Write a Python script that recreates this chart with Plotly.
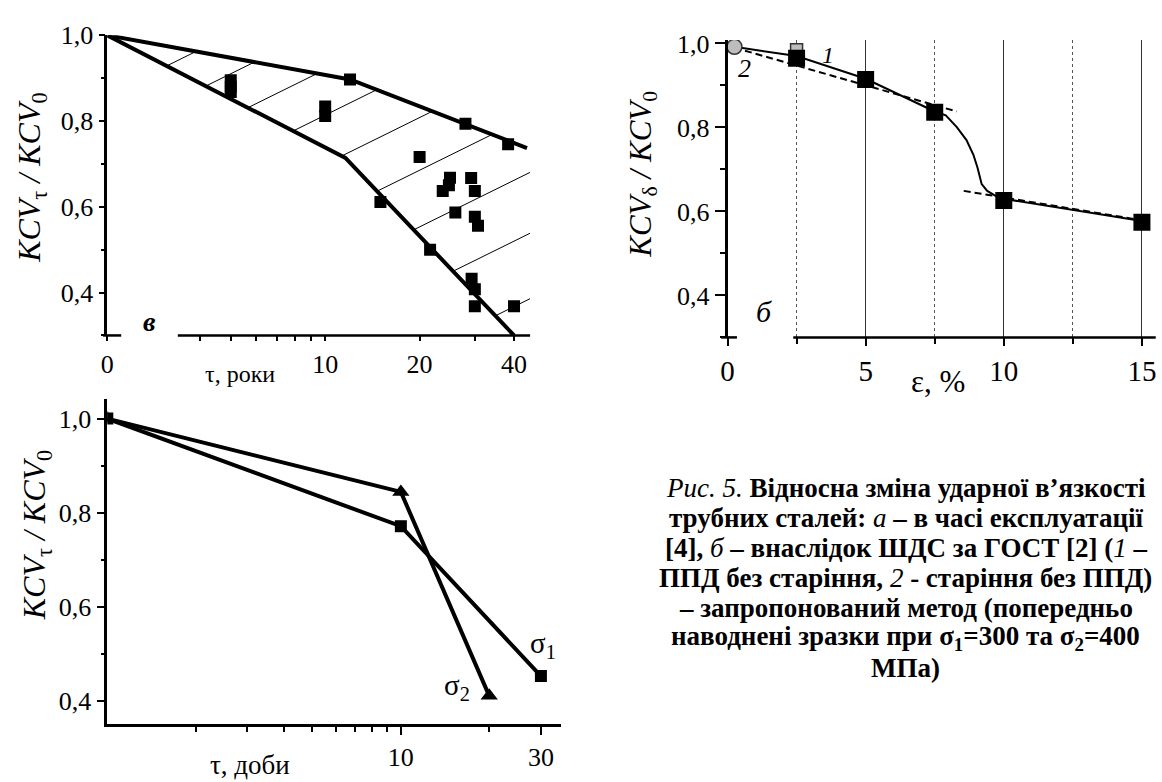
import numpy as np
import plotly.graph_objects as go

W, H = 1162, 782
FONT = "Liberation Serif, Times New Roman, serif"

# ---------------- DATA ----------------
# panel "в": KCV_tau/KCV_0 vs service time, years (log axis, broken at 0)
tl_tau = [5, 5, 5, 10, 10, 12, 28, 38.3, 20, 25, 24.8, 23.7, 29.2, 30, 26, 30, 30.7, 15, 21.6, 29.3, 30, 30, 40]
tl_kcv = [0.895, 0.88, 0.868, 0.834, 0.812, 0.897, 0.794, 0.746, 0.716, 0.668, 0.65, 0.637, 0.667, 0.637,
          0.587, 0.577, 0.556, 0.611, 0.5, 0.432, 0.408, 0.368, 0.368]
tl_upper_tau = [0, 12, 44]
tl_upper_kcv = [1.0, 0.897, 0.737]
tl_lower_tau = [0, 11.6, 40]
tl_lower_kcv = [1.0, 0.714, 0.30]
tl_tick_vals = [0, 10, 20, 40]
tl_tick_text = ["0", "10", "20", "40"]
tl_minor_vals = [4, 5, 6, 7, 8, 9, 30]

# panel "б": KCV_delta/KCV_0 vs strain, %
tr_eps_black = [2.5, 5, 7.5, 10, 15]
tr_kcv_black = [0.965, 0.914, 0.836, 0.626, 0.574]
tr_eps_grey_circle = [0.25]
tr_kcv_grey_circle = [0.992]
tr_eps_grey_square = [2.5]
tr_kcv_grey_square = [0.985]
curve1_eps = [0.25, 2.5, 5, 7.5, 7.9, 8.3, 8.65, 8.9, 9.05, 9.15, 9.2, 9.4, 9.7, 10, 15]
curve1_kcv = [0.992, 0.970, 0.916, 0.838, 0.829, 0.801, 0.770, 0.735, 0.704, 0.676, 0.665, 0.649, 0.637, 0.630, 0.577]
curve2a_eps = [0.25, 8.3]
curve2a_kcv = [0.99, 0.838]
curve2b_eps = [8.55, 14.9]
curve2b_kcv = [0.649, 0.58]

# bottom panel: KCV_tau/KCV_0 vs time, days
bl_tau_s1 = [1, 10, 30]
bl_kcv_s1 = [1.0, 0.771, 0.452]
bl_tau_s2 = [1, 10, 20]
bl_kcv_s2 = [1.0, 0.844, 0.41]
bl_tick_vals = [10, 30]
bl_minor_vals = [2, 3, 4, 5, 6, 7, 8, 9, 20]

# ---------------- LAYOUT HELPERS ----------------
ZERO_POS = 2.02      # where the broken log axis places "0"
TL_XMAX = 45


def tl_pos(t):
    return [v if v > 0 else ZERO_POS for v in t]


def xdom(l, r):
    return [l / W, r / W]


def ydom(top, bottom):
    return [1 - bottom / H, 1 - top / H]


def px(x):
    return x / W


def py(y):
    return 1 - y / H


def ann(text, x, y, size, angle=0, xanchor="center", yanchor="middle"):
    return dict(text=text, x=px(x), y=py(y), xref="paper", yref="paper", showarrow=False,
                textangle=angle, xanchor=xanchor, yanchor=yanchor,
                font=dict(family=FONT, size=size, color="black"))


def hline(x0, x1, y, w=2.5):
    return dict(type="line", xref="paper", yref="paper", x0=px(x0), x1=px(x1), y0=py(y), y1=py(y),
                line=dict(color="black", width=w))


# ---------------- HATCHING (derived from boundary arrays) ----------------
u_up = np.log10(tl_pos(tl_upper_tau))
u_lo = np.log10(tl_pos(tl_lower_tau))
u_grid = np.linspace(np.log10(ZERO_POS), np.log10(TL_XMAX), 5000)
U = np.interp(u_grid, u_up, tl_upper_kcv)
L = np.interp(u_grid, u_lo, tl_lower_kcv)
HATCH_SLOPE = 0.361
hx, hy = [], []
c, step = 0.75, 0.092
for i in range(9):
    h = c + HATCH_SLOPE * u_grid
    m = (h >= L) & (h <= U) & (h >= 0.3)
    if m.any():
        idx = np.where(m)[0]
        u1, u2 = u_grid[idx[0]], u_grid[idx[-1]]
        hx += [10 ** u1, 10 ** u2, None]
        hy += [c + HATCH_SLOPE * u1, c + HATCH_SLOPE * u2, None]
    c -= step
    step *= 1.075

fig = go.Figure()

# ---- top-left ----
fig.add_trace(go.Scatter(x=hx, y=hy, mode="lines", line=dict(color="black", width=1),
                         xaxis="x", yaxis="y", hoverinfo="skip"))
fig.add_trace(go.Scatter(x=tl_pos(tl_upper_tau), y=tl_upper_kcv, mode="lines",
                         line=dict(color="black", width=4), xaxis="x", yaxis="y"))
fig.add_trace(go.Scatter(x=tl_pos(tl_lower_tau), y=tl_lower_kcv, mode="lines",
                         line=dict(color="black", width=4), xaxis="x", yaxis="y"))
fig.add_trace(go.Scatter(x=tl_tau, y=tl_kcv, mode="markers",
                         marker=dict(symbol="square", size=12, color="black"), xaxis="x", yaxis="y"))

# ---- top-right ----
fig.add_trace(go.Scatter(x=curve2a_eps + [None] + curve2b_eps, y=curve2a_kcv + [None] + curve2b_kcv,
                         mode="lines", line=dict(color="black", width=2, dash="7px,4px"),
                         xaxis="x2", yaxis="y2"))
fig.add_trace(go.Scatter(x=curve1_eps, y=curve1_kcv, mode="lines",
                         line=dict(color="black", width=2), xaxis="x2", yaxis="y2"))
fig.add_trace(go.Scatter(x=tr_eps_grey_circle, y=tr_kcv_grey_circle, mode="markers",
                         marker=dict(symbol="circle", size=15, color="#bdbdbd",
                                     line=dict(color="#333", width=1.5)), xaxis="x2", yaxis="y2"))
fig.add_trace(go.Scatter(x=tr_eps_grey_square, y=tr_kcv_grey_square, mode="markers",
                         marker=dict(symbol="square", size=12, color="#bdbdbd",
                                     line=dict(color="#333", width=1.5)), xaxis="x2", yaxis="y2"))
fig.add_trace(go.Scatter(x=tr_eps_black, y=tr_kcv_black, mode="markers",
                         marker=dict(symbol="square", size=17, color="black"), xaxis="x2", yaxis="y2"))

# ---- bottom-left ----
fig.add_trace(go.Scatter(x=bl_tau_s1, y=bl_kcv_s1, mode="lines+markers",
                         line=dict(color="black", width=4),
                         marker=dict(symbol="square", size=12, color="black"), xaxis="x3", yaxis="y3"))
fig.add_trace(go.Scatter(x=bl_tau_s2, y=bl_kcv_s2, mode="lines+markers",
                         line=dict(color="black", width=4),
                         marker=dict(symbol="triangle-up", size=15, color="black"), xaxis="x3", yaxis="y3"))

tickfont = dict(family=FONT, size=26, color="black")
tickfont_big = dict(family=FONT, size=29, color="black")
common_y = dict(showline=True, linecolor="black", linewidth=2.5, ticks="outside", tickcolor="black",
                tickwidth=2, tickfont=tickfont, tickformat=".1f", showgrid=False, zeroline=False,
                fixedrange=True)

fig.update_layout(
    width=W, height=H, margin=dict(l=0, r=0, t=0, b=0), autosize=False,
    paper_bgcolor="white", plot_bgcolor="rgba(0,0,0,0)", showlegend=False,
    separators=", ",
    # top-left
    xaxis=dict(domain=xdom(101, 526.7), anchor="y", type="log",
               range=[np.log10(ZERO_POS), np.log10(TL_XMAX)],
               tickmode="array", tickvals=tl_pos(tl_tick_vals), ticktext=tl_tick_text,
               ticks="outside", ticklen=5, tickwidth=2, tickcolor="black", tickfont=tickfont,
               minor=dict(tickmode="array", tickvals=tl_minor_vals, ticks="outside",
                          ticklen=5, tickwidth=2, tickcolor="black"),
               showline=False, showgrid=False, zeroline=False),
    yaxis=dict(domain=ydom(21.7, 327.3), anchor="x", range=[0.3, 1.0], tick0=0.4, dtick=0.2,
               ticklen=6, minor=dict(dtick=0.1, tick0=0.3, ticklen=4, ticks="outside",
                                     tickcolor="black", tickwidth=2), **common_y),
    # top-right
    xaxis2=dict(domain=xdom(725.5, 1156.7), anchor="y2", range=[0, 15.5], tick0=0, dtick=5,
                ticks="outside", ticklen=8, tickwidth=2, tickcolor="black", tickfont=tickfont_big,
                showline=False, zeroline=False, showgrid=True, gridcolor="#333", gridwidth=1.3,
                minor=dict(dtick=2.5, tick0=0, ticks="outside", ticklen=6, tickwidth=2,
                           tickcolor="black", showgrid=True, gridcolor="#555", gridwidth=1,
                           griddash="dot")),
    yaxis2=dict(domain=ydom(26.6, 329.3), anchor="x2", range=[0.3, 1.008], tick0=0.4, dtick=0.2,
                ticklen=10, minor=dict(dtick=0.1, tick0=0.3, ticklen=5, ticks="outside",
                                       tickcolor="black", tickwidth=2), **common_y),
    # bottom-left
    xaxis3=dict(domain=xdom(101, 557.4), anchor="y3", type="log", range=[0, np.log10(35)],
                tickmode="array", tickvals=bl_tick_vals, ticktext=[str(v) for v in bl_tick_vals],
                ticks="outside", ticklen=8, tickwidth=2, tickcolor="black", tickfont=tickfont,
                minor=dict(tickmode="array", tickvals=bl_minor_vals, ticks="outside",
                           ticklen=5, tickwidth=2, tickcolor="black"),
                showline=True, linecolor="black", linewidth=2.5, showgrid=False, zeroline=False),
    yaxis3=dict(domain=ydom(391.9, 723), anchor="x3", range=[0.35, 1.042], tick0=0.4, dtick=0.2,
                ticklen=8, minor=dict(dtick=0.1, tick0=0.3, ticklen=4, ticks="outside",
                                      tickcolor="black", tickwidth=2), **common_y),
)

# broken x-axis lines
fig.update_layout(shapes=[
    hline(96.7, 115, 327.3), hline(172, 526.7, 327.3),
    hline(719, 735, 329.3), hline(791.7, 1156.7, 329.3),
])

ytitle_tau = "<i>KCV</i><sub>τ</sub> <i>/ KCV</i><sub>0</sub>"
ytitle_delta = "<i>KCV</i><sub>δ</sub> <i>/ KCV</i><sub>0</sub>"

annotations = [
    ann(ytitle_tau, 24, 166, 32, angle=-90),
    ann(ytitle_delta, 640, 163, 31, angle=-90),
    ann(ytitle_tau, 30, 530, 32, angle=-90),
    ann("τ, роки", 235, 367, 24),
    ann("ε, %", 937, 374, 31),
    ann("τ, доби", 245, 765, 27),
    ann("<b><i>в</i></b>", 143, 313, 28),
    ann("<i>б</i>", 762, 303, 30),
    ann("<i>1</i>", 827, 42, 24),
    ann("<i>2</i>", 743, 55, 26),
    ann("σ<sub>1</sub>", 540, 643, 29),
    ann("σ<sub>2</sub>", 453, 685, 29),
]

caption = [
    "<i>Рис. 5.</i> <b>Відносна зміна ударної в’язкості</b>",
    "<b>трубних сталей: </b><i>а</i><b> – в часі експлуатації</b>",
    "<b>[4], </b><i>б</i><b> – внаслідок ШДС за ГОСТ [2] (</b><i>1</i><b> –</b>",
    "<b>ППД без старіння, </b><i>2</i><b> - старіння без ППД)</b>",
    "<b>– запропонований метод (попередньо</b>",
    "<b>наводнені зразки при σ<sub>1</sub>=300 та σ<sub>2</sub>=400</b>",
    "<b>МПа)</b>",
]
for i, line in enumerate(caption):
    annotations.append(ann(line, 905, 483 + 30.5 * i, 27))

fig.update_layout(annotations=annotations)

fig.write_html("out.html")
